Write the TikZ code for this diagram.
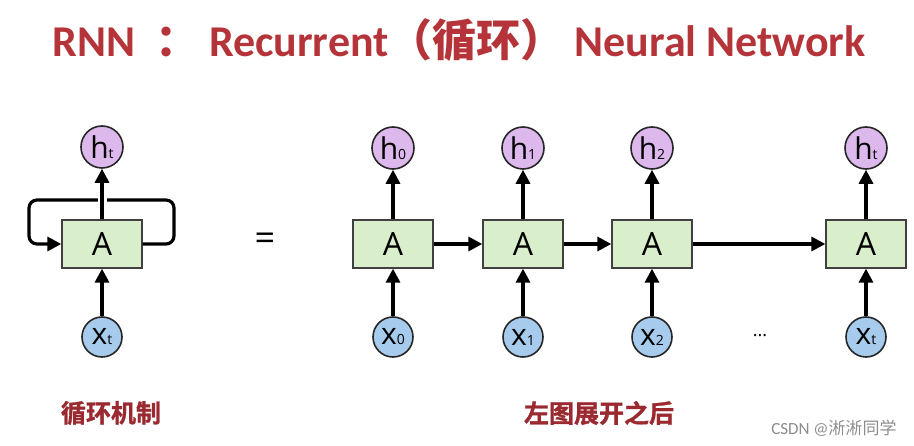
\documentclass[tikz,border=0pt]{standalone}
\usepackage{fontspec}
\setmainfont{Open Sans}
\newfontfamily\titlefont{Carlito}[BoldFont={* Bold}]
\newfontfamily\cjkb{Noto Sans CJK SC Bold}
\newfontfamily\cjkheavy{Noto Sans CJK SC Bold}[FakeBold=1.2]
\newfontfamily\cjk{Noto Sans CJK SC}
\usetikzlibrary{arrows.meta}
\definecolor{titlered}{HTML}{B5343A}
\definecolor{labelred}{HTML}{9A2A30}
\definecolor{hpurple}{HTML}{DDB8EC}
\definecolor{xblue}{HTML}{A7CBEC}
\definecolor{cellgreen}{HTML}{D9EFCB}
\begin{document}
\begin{tikzpicture}[x=1pt,y=-1pt,
  hnode/.style={circle,draw=black!85,line width=1.6pt,fill=hpurple,minimum size=42pt,inner sep=0pt,font=\fontsize{30}{30}\selectfont},
  xnode/.style={circle,draw=black!85,line width=1.6pt,fill=xblue,minimum size=40pt,inner sep=0pt,font=\fontsize{30}{30}\selectfont},
  cell/.style={rectangle,draw=black!75,line width=1.3pt,fill=cellgreen,minimum width=80pt,minimum height=48pt,inner sep=0pt,font=\fontsize{32}{32}\selectfont},
  arr/.style={line width=3.2pt,-{Triangle[length=14pt,width=14pt]}},
  lbl/.style={text=labelred,font=\cjkheavy\fontsize{25}{25}\selectfont}]
\newcommand{\sbs}[1]{{\fontsize{14}{14}\selectfont #1}}
\useasboundingbox (0,0) rectangle (914,446);
% title
\node[text=titlered,font=\fontsize{44}{44}\selectfont] (title) at (459,40)
  {\titlefont\bfseries RNN\ \ {\cjkb ：}\ Recurrent{\cjk （}{\cjkb 循环}{\cjk ）}\ Neural Network};
% left
\node[cell] (L) at (102,244) {A};
\node[hnode] (Lh) at (102,147) {h\sbs{t}};
\node[xnode] (Lx) at (102,337) {x\sbs{t}};
\coordinate (lr1) at (174,244);
\coordinate (lr2) at (174,200);
\coordinate (ll1) at (29,200);
\coordinate (ll2) at (29,244);
\draw[arr,rounded corners=8pt] (L.east) -- (lr1) -- (lr2) -- (ll1) -- (ll2) -- (L.west);
\draw[arr,preaction={draw=white,line width=9pt,-,shorten <=12pt,shorten >=24pt}] (L.north) -- (Lh.south);
\draw[arr] (Lx.north) -- (L.south);
\node[font=\fontsize{36}{36}\selectfont] (eq) at (265,242) {=};
% right
\foreach \n/\xx/\s in {0/393/0,1/523/1,2/652/2,3/866/t}{
  \node[cell] (A\n) at (\xx,244) {A};
  \node[hnode] (h\n) at (\xx,148) {h\sbs{\s}};
  \node[xnode] (x\n) at (\xx,337) {x\sbs{\s}};
  \draw[arr] (A\n.north) -- (h\n.south);
  \draw[arr] (x\n.north) -- (A\n.south);
}
\draw[arr] (A0.east) -- (A1.west);
\draw[arr] (A1.east) -- (A2.west);
\draw[arr] (A2.east) -- (A3.west);
\node[font=\fontsize{18}{18}\selectfont] (dots) at (760,336) {...};
% labels
\node[lbl] (l1) at (111,413) {循环机制};
\node[lbl] (l2) at (599,413) {左图展开之后};
\node[text=black!45,font=\fontsize{17}{17}\selectfont] (wm) at (834,428) {\titlefont CSDN @{\cjk 淅淅同学}};
\end{tikzpicture}
\end{document}
